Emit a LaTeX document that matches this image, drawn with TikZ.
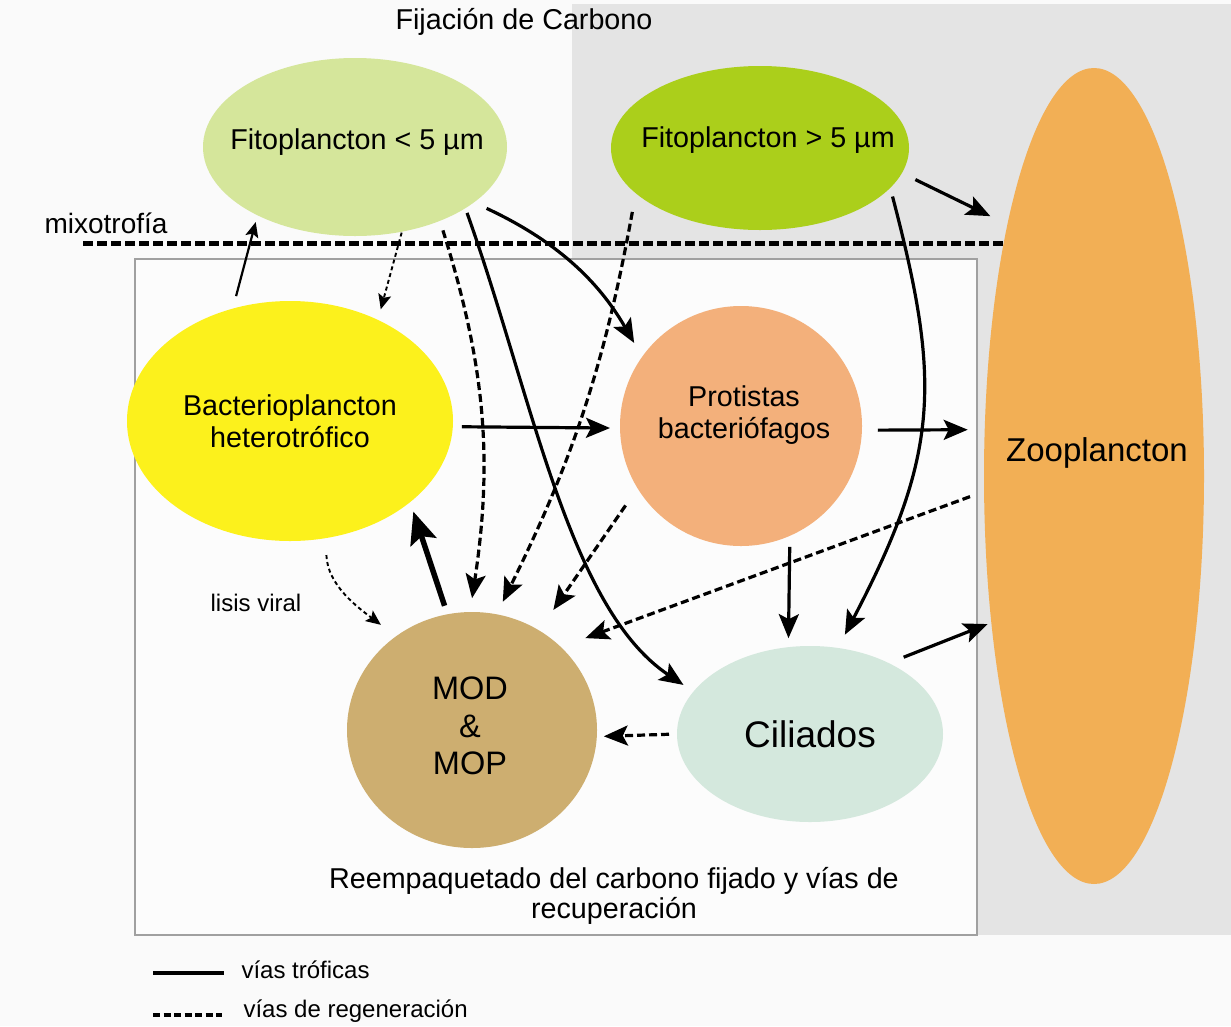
\documentclass[tikz,border=0pt]{standalone}
\usepackage{fontspec}
\setmainfont{Liberation Sans}
\usetikzlibrary{shapes.geometric,arrows.meta}
\definecolor{bgc}{HTML}{FAFAFA}
\definecolor{grayc}{HTML}{E4E4E4}
\definecolor{boxfill}{HTML}{FCFCFC}
\definecolor{boxline}{HTML}{A0A0A0}
\definecolor{fonec}{HTML}{D5E69B}
\definecolor{ftwoc}{HTML}{ABCF1B}
\definecolor{zooc}{HTML}{F2AF55}
\definecolor{bacc}{HTML}{FCF11C}
\definecolor{proc}{HTML}{F3B07B}
\definecolor{modc}{HTML}{CDAE70}
\definecolor{cilc}{HTML}{D4E8DD}
\tikzset{
  ell/.style={ellipse, inner sep=0pt, outer sep=0pt, draw=none, align=center},
  tA/.style={font=\fontsize{28.7}{31.5}\selectfont, align=center},
  tB/.style={font=\fontsize{24}{28}\selectfont},
  tro/.style={line width=3.2pt, -{Stealth[length=24pt,width=20pt,inset=5pt]}},
  reg/.style={tro, dash pattern=on 8pt off 4pt},
  thinarr/.style={line width=2.2pt, -{Stealth[length=15pt,width=13pt,inset=3pt]}},
  finearr/.style={line width=1.9pt, dash pattern=on 4pt off 3pt, -{Stealth[length=15pt,width=13pt,inset=3pt]}},
  boldarr/.style={line width=5.5pt, -{Stealth[length=32pt,width=27pt,inset=6pt]}},
  mixo/.style={line width=5pt, dash pattern=on 9.5pt off 4.5pt},
}
\begin{document}
\begin{tikzpicture}[x=1pt,y=-1pt]
\fill[bgc] (0,0) rectangle (1231,1026);
\useasboundingbox (0,0) rectangle (1231,1026);
\fill[grayc] (572,4) rectangle (1231,935);
\draw[boxline, line width=1.2pt, fill=boxfill] (135,259) rectangle (977,935);
\coordinate (mxa) at (83,243);
\coordinate (mxb) at (1040,243);
\draw[mixo] (mxa) -- (mxb);

% texts
\node[tA] (title) at (524,22) {Fijación de Carbono};
\node[tA, font=\fontsize{28}{31}\selectfont] (mixt) at (106,223) {mixotrofía};
\node[tB] (lisis) at (256,603) {lisis viral};
\node[tA, font=\fontsize{28.7}{30}\selectfont] (reemp) at (614,896) {Reempaquetado del carbono fijado y vías de\\recuperación};

% organisms
\node[ell, fill=fonec, minimum width=304pt, minimum height=178pt,
      label={[tA, xshift=2pt, yshift=5pt]center:Fitoplancton < 5 µm}] (f1) at (355,147) {};
\node[ell, fill=ftwoc, minimum width=298pt, minimum height=164pt,
      label={[tA, xshift=8pt, yshift=8pt]center:Fitoplancton > 5 µm}] (f2) at (760,148) {};
\node[ell, fill=zooc, minimum width=220pt, minimum height=816pt,
      label={[font=\fontsize{33}{36}\selectfont, xshift=3pt, yshift=23pt]center:Zooplancton}] (z) at (1094,476) {};
\node[ell, fill=bacc, minimum width=326pt, minimum height=240pt, tA] (b) at (290,421) {Bacterioplancton\\heterotrófico};
\node[ell, fill=proc, minimum width=242pt, minimum height=240pt,
      label={[tA, xshift=3pt, yshift=11pt]center:Protistas\\bacteriófagos}] (p) at (741,426) {};
\node[ell, fill=modc, minimum width=250pt, minimum height=236pt,
      label={[font=\fontsize{32.5}{37.5}\selectfont, align=center, xshift=-2pt, yshift=4pt]center:MOD\\\&\\MOP}] (m) at (472,730) {};
\node[ell, fill=cilc, minimum width=266pt, minimum height=176pt, font=\fontsize{37}{40}\selectfont] (c) at (810,734) {Ciliados};

% connectors
\draw[thinarr, shorten <=13pt, shorten >=7pt] (b.117) -- (f1.-145);
\draw[finearr, shorten <=1pt, shorten >=11pt] (f1.-61) -- (b.49);
\draw[reg, shorten <=10pt, shorten >=14pt] (f1.-41) to[bend left=13] (m.91);
\draw[tro, shorten <=5pt, shorten >=12pt] (f1.-29) .. controls (532.6,396.6) and (568.6,608.2) .. (c.160);
\draw[tro, shorten <=14pt, shorten >=16pt] (f1.-25) to[out=-25,in=120] (p.145);
\draw[reg, shorten <=19pt, shorten >=14pt] (f2.-160) to[bend left=8] (m.78);
\draw[tro, shorten <=15pt, shorten >=19pt] (f2.-10) -- (z.109);
\draw[tro, shorten <=9pt, shorten >=15pt] (f2.-17) .. controls (941,381.5) and (940,453) .. (c.72);
\draw[tro, shorten <=9pt, shorten >=10pt] (b.-2) -- (p.181);
\draw[tro, shorten <=16pt, shorten >=17pt] (p.-2) -- (z.157);
\draw[reg, shorten <=21pt, shorten >=25pt] (p.-149) -- (m.56);
\draw[reg, shorten <=15pt, shorten >=26pt] (z.-172) -- (m.43);
\draw[tro, shorten <=11pt, shorten >=9pt] (p.-66) -- (c.104);
\draw[tro, shorten <=16pt, shorten >=4pt] (c.42) -- (z.-125);
\draw[reg, shorten <=8pt, shorten >=7pt] (c.180) -- (m.-3);
\draw[boldarr, shorten <=9pt, shorten >=10pt] (m.102) -- (b.-34);
\draw[finearr, shorten <=17pt, shorten >=19pt] (b.-73) to[out=-88,in=143] (m.129);

% legend
\coordinate (la) at (153,973);
\coordinate (lb) at (224,973);
\coordinate (lc) at (153,1015);
\coordinate (ld) at (222,1015);
\draw[line width=3.4pt] (la) -- (lb);
\draw[line width=3.2pt, dash pattern=on 7pt off 3.5pt] (lc) -- (ld);
\node[tB, anchor=west] (leg1) at (238,970) {vías tróficas};
\node[tB, anchor=west] (leg2) at (240,1011) {vías de regeneración};
\end{tikzpicture}
\end{document}
